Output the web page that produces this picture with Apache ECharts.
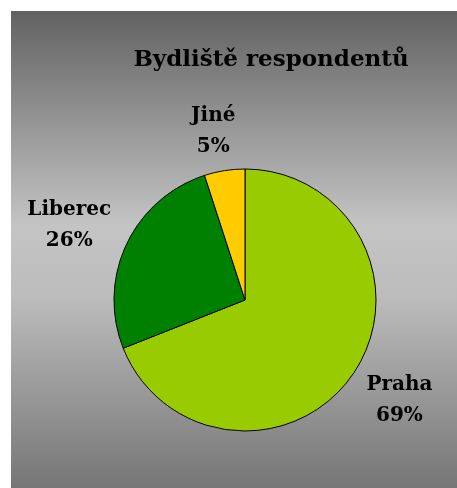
<!DOCTYPE html>
<html><head><meta charset="utf-8">
<script src="https://cdn.jsdelivr.net/npm/echarts@6/dist/echarts.min.js"></script>
<style>html,body{margin:0;padding:0;background:#fff}#c{width:457px;height:488px}</style>
</head><body><div id="c"></div>
<script>
const titleText = 'Bydliště respondentů';
const categories = ['Praha', 'Liberec', 'Jiné'];
const values = [69, 26, 5];
const colors = ['#99cc00', '#008000', '#ffcc00'];

const chart = echarts.init(document.getElementById('c'), null, {renderer: 'canvas'});
const font = 'DejaVu Serif';
// small per-label nudges (styling only)
const labelNudge = [[8, 4], [-16, -2], [0, 0]];
chart.setOption({
  animation: false,
  graphic: [{
    type: 'rect', z: -10, silent: true,
    shape: {x: 11, y: 11, width: 446, height: 477},
    style: {
      fill: new echarts.graphic.LinearGradient(0, 0, 0, 1, [
        {offset: 0, color: '#626262'},
        {offset: 0.45, color: '#c4c4c4'},
        {offset: 0.6, color: '#bcbcbc'},
        {offset: 1, color: '#767676'}
      ])
    }
  }],
  title: {
    text: titleText, left: 266, top: 44, textAlign: 'center',
    textStyle: {fontFamily: font, fontWeight: 'bold', fontSize: 23, color: '#000'}
  },
  series: [{
    type: 'pie',
    center: [245, 300],
    radius: 131,
    startAngle: 90,
    clockwise: true,
    data: categories.map((n, i) => ({name: n, value: values[i], itemStyle: {color: colors[i]}})),
    itemStyle: {borderColor: '#000', borderWidth: 1},
    label: {
      show: true, position: 'outside', overflow: 'none',
      formatter: p => p.name + '\n' + p.percent + '%',
      fontFamily: font, fontWeight: 'bold', fontSize: 20, color: '#000',
      lineHeight: 31
    },
    labelLine: {show: false, length: 40, length2: 0},
    labelLayout: p => ({align: 'center', verticalAlign: 'middle', dx: labelNudge[p.dataIndex][0], dy: labelNudge[p.dataIndex][1]}),
    emphasis: {disabled: true}
  }]
});
</script></body></html>
